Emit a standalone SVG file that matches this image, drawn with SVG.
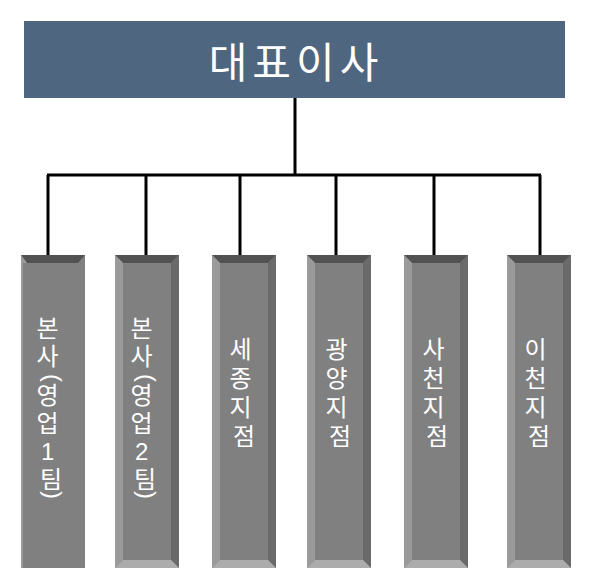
<svg xmlns="http://www.w3.org/2000/svg" xmlns:xlink="http://www.w3.org/1999/xlink" width="590" height="578" viewBox="0 0 590 578">
  <style>
    .head { fill: #4f6680; }
    .headtxt { font-family: "Liberation Sans", "Noto Sans CJK KR", sans-serif; font-size: 42px; fill: #ffffff; letter-spacing: 5px; }
    .lbl { font-family: "Liberation Sans", "Noto Sans CJK KR", sans-serif; font-size: 24px; fill: #ffffff; text-anchor: middle; }
    .conn { fill: none; stroke: #000000; stroke-width: 3; }
    .bt { fill: #525252; }
    .bl { fill: #9a9a9a; }
    .br { fill: #6a6a6a; }
    .bb { fill: #acacac; }
    .bf { fill: #808080; }
  </style>
  <defs>
    <g id="bevel">
      <rect class="bf" x="0" y="0" width="64" height="313"/>
      <polygon class="bt" points="0,0 64,0 56,8 8,8"/>
      <polygon class="bl" points="0,0 8,8 8,305 0,313"/>
      <polygon class="br" points="64,0 64,313 56,305 56,8"/>
      <polygon class="bb" points="0,313 8,305 56,305 64,313"/>
    </g>
  </defs>
  <rect width="590" height="578" fill="#ffffff"/>

  <g id="connectors">
    <path class="conn" d="M295 98 V175 M47 175 H541 M48 175 V256 M146 175 V256 M240 175 V256 M336 175 V256 M434 175 V256 M540 175 V256"/>
  </g>

  <g id="ceo">
    <rect class="head" x="24" y="21" width="541" height="77"/>
    <text class="headtxt" x="296" y="78" text-anchor="middle">대표이사</text>
  </g>

  <g id="hq1">
    <rect class="bf" x="21" y="255" width="64" height="313"/>
    <polygon class="bt" points="21,255 85,255 78,263 27,263"/>
    <polygon class="bl" points="21,255 27,263 23,263 23,568 21,568"/>
    <text class="lbl">
      <tspan x="51" y="337">본</tspan>
      <tspan x="51" y="365">사</tspan>
      <tspan x="51" y="404">영</tspan>
      <tspan x="51" y="432">업</tspan>
      <tspan x="51" y="460">1</tspan>
      <tspan x="51" y="488">팀</tspan>
    </text>
    <text class="lbl" x="51" y="384" transform="rotate(90 51 378)">(</text>
    <text class="lbl" x="51" y="501" transform="rotate(90 51 495)">)</text>
  </g>

  <g id="hq2">
    <use xlink:href="#bevel" x="115" y="255"/>
    <text class="lbl">
      <tspan x="145" y="337">본</tspan>
      <tspan x="145" y="365">사</tspan>
      <tspan x="145" y="404">영</tspan>
      <tspan x="145" y="432">업</tspan>
      <tspan x="145" y="460">2</tspan>
      <tspan x="145" y="488">팀</tspan>
    </text>
    <text class="lbl" x="145" y="384" transform="rotate(90 145 378)">(</text>
    <text class="lbl" x="145" y="501" transform="rotate(90 145 495)">)</text>
  </g>

  <g id="sejong">
    <use xlink:href="#bevel" x="212" y="255"/>
    <text class="lbl">
      <tspan x="244" y="358">세</tspan>
      <tspan x="244" y="387">종</tspan>
      <tspan x="244" y="416">지</tspan>
      <tspan x="244" y="445">점</tspan>
    </text>
  </g>

  <g id="gwangyang">
    <use xlink:href="#bevel" x="307" y="255"/>
    <text class="lbl">
      <tspan x="340" y="358">광</tspan>
      <tspan x="340" y="387">양</tspan>
      <tspan x="340" y="416">지</tspan>
      <tspan x="340" y="445">점</tspan>
    </text>
  </g>

  <g id="sacheon">
    <use xlink:href="#bevel" x="404" y="255"/>
    <text class="lbl">
      <tspan x="437" y="358">사</tspan>
      <tspan x="437" y="387">천</tspan>
      <tspan x="437" y="416">지</tspan>
      <tspan x="437" y="445">점</tspan>
    </text>
  </g>

  <g id="icheon">
    <use xlink:href="#bevel" x="507" y="255"/>
    <text class="lbl">
      <tspan x="539" y="358">이</tspan>
      <tspan x="539" y="387">천</tspan>
      <tspan x="539" y="416">지</tspan>
      <tspan x="539" y="445">점</tspan>
    </text>
  </g>
</svg>
